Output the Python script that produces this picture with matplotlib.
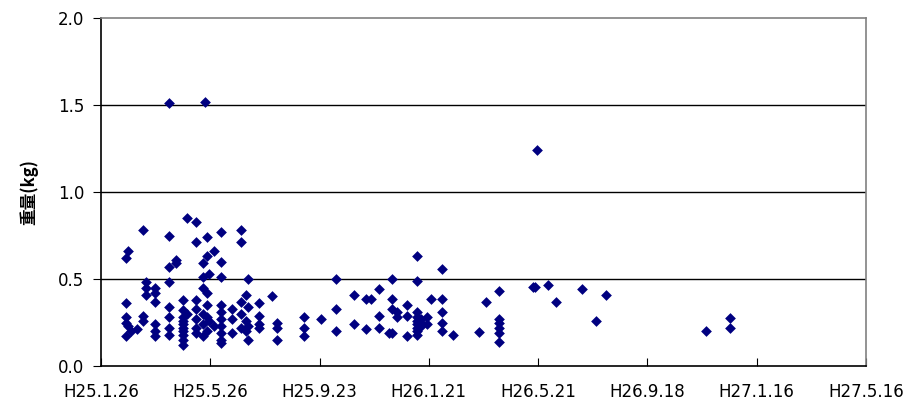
import numpy as np
import pandas as pd
import matplotlib
matplotlib.use('Agg')
import matplotlib.pyplot as plt
import matplotlib.dates as mdates

plt.rcParams['font.family'] = ['DejaVu Sans', 'Noto Sans CJK JP']

# capture data: days elapsed since H25.1.26 and weight (kg)
start = pd.Timestamp('2013-01-26')
days = [27, 27, 27, 27, 27, 30, 30, 33, 40, 46, 46, 46, 49, 49, 49,
        59, 59, 59, 59, 59, 59,
        75, 75, 75, 75, 75, 75, 75, 75,
        82, 82,
        90, 90, 90, 90, 90, 90, 90, 90, 90, 90,
        94, 94,
        104, 104, 104, 104, 104, 104, 104,
        114, 112, 112, 112, 112, 112, 112,
        116, 116, 116, 116, 116, 116,
        119, 119, 124, 124,
        132, 132, 132, 132, 132, 132, 132, 132, 132, 132,
        144, 144, 144,
        154, 154, 154, 154, 154,
        159, 159, 159,
        161, 161, 161, 161,
        174, 174, 174, 174,
        188, 193, 193, 193,
        223, 223, 223, 242,
        258, 258, 258, 278, 278,
        291, 291, 296,
        305, 305, 305, 316,
        320, 320, 320, 320, 325, 325,
        336, 336, 336,
        347, 347, 347, 347, 347, 347, 347, 347, 347,
        351, 351, 351, 358, 358, 362,
        374, 374, 374, 374, 374,
        387, 415, 423,
        437, 437, 437, 437, 437, 437,
        474, 477, 479, 491, 500, 528, 544, 555,
        664, 691, 691]
weights = [0.62, 0.36, 0.28, 0.25, 0.17, 0.66, 0.23, 0.20, 0.21, 0.78, 0.29, 0.26, 0.48, 0.45, 0.41,
           0.45, 0.42, 0.37, 0.24, 0.20, 0.17,
           1.51, 0.75, 0.57, 0.48, 0.34, 0.28, 0.22, 0.18,
           0.61, 0.59,
           0.38, 0.32, 0.28, 0.26, 0.24, 0.22, 0.20, 0.18, 0.15, 0.12,
           0.85, 0.30,
           0.83, 0.71, 0.38, 0.33, 0.27, 0.22, 0.19,
           1.52, 0.59, 0.51, 0.45, 0.30, 0.24, 0.17,
           0.74, 0.63, 0.42, 0.35, 0.28, 0.20,
           0.53, 0.26, 0.66, 0.23,
           0.77, 0.60, 0.51, 0.35, 0.31, 0.27, 0.23, 0.19, 0.15, 0.13,
           0.33, 0.27, 0.19,
           0.78, 0.71, 0.37, 0.30, 0.22,
           0.41, 0.26, 0.20,
           0.50, 0.34, 0.23, 0.15,
           0.36, 0.29, 0.24, 0.22,
           0.40, 0.25, 0.22, 0.15,
           0.28, 0.22, 0.17, 0.27,
           0.50, 0.33, 0.20, 0.41, 0.24,
           0.385, 0.21, 0.385,
           0.44, 0.29, 0.22, 0.19,
           0.50, 0.385, 0.33, 0.19, 0.31, 0.28,
           0.35, 0.29, 0.17,
           0.63, 0.49, 0.31, 0.28, 0.26, 0.24, 0.22, 0.20, 0.18,
           0.27, 0.25, 0.23, 0.28, 0.24, 0.385,
           0.56, 0.385, 0.31, 0.25, 0.20,
           0.18, 0.195, 0.37,
           0.43, 0.27, 0.25, 0.22, 0.19, 0.14,
           0.455, 0.455, 1.24, 0.465, 0.37, 0.44, 0.26, 0.41,
           0.20, 0.275, 0.22]

tick_labels = ['H25.1.26', 'H25.5.26', 'H25.9.23', 'H26.1.21',
               'H26.5.21', 'H26.9.18', 'H27.1.16', 'H27.5.16']
tick_dates = pd.to_datetime(['2013-01-26', '2013-05-26', '2013-09-23', '2014-01-21',
                             '2014-05-21', '2014-09-18', '2015-01-16', '2015-05-16'])

dates = start + pd.to_timedelta(days, unit='D')

fig = plt.figure(figsize=(9.09, 4.08), dpi=100)
ax = fig.add_axes([101 / 909, 42 / 408, 765 / 909, 348 / 408])

ax.scatter(dates, weights, marker='D', s=30, color='#000080', zorder=3, linewidths=0)

ax.set_xlim(tick_dates[0], tick_dates[-1])
ax.set_ylim(0, 2.0)
ax.set_yticks([0, 0.5, 1.0, 1.5, 2.0])
ax.set_yticklabels(['0.0', '0.5', '1.0', '1.5', '2.0'], fontsize=12)
ax.set_xticks(mdates.date2num(tick_dates))
ax.set_xticklabels(tick_labels, fontsize=12)

for y in [0.5, 1.0, 1.5]:
    ax.axhline(y, color='black', linewidth=1, zorder=1)

ax.spines['left'].set_color('black')
ax.spines['bottom'].set_color('black')
ax.spines['top'].set_color('#808080')
ax.spines['right'].set_color('#808080')
for s in ax.spines.values():
    s.set_linewidth(1.2)

ax.tick_params(axis='x', direction='in', length=6, pad=12, color='black')
ax.tick_params(axis='y', direction='out', length=6, pad=6, color='black')

ax.set_ylabel('重量(kg)', fontsize=12, fontweight='bold',
              family=['Noto Sans CJK JP', 'DejaVu Sans'], labelpad=14)

fig.savefig('out.png', dpi=100)
